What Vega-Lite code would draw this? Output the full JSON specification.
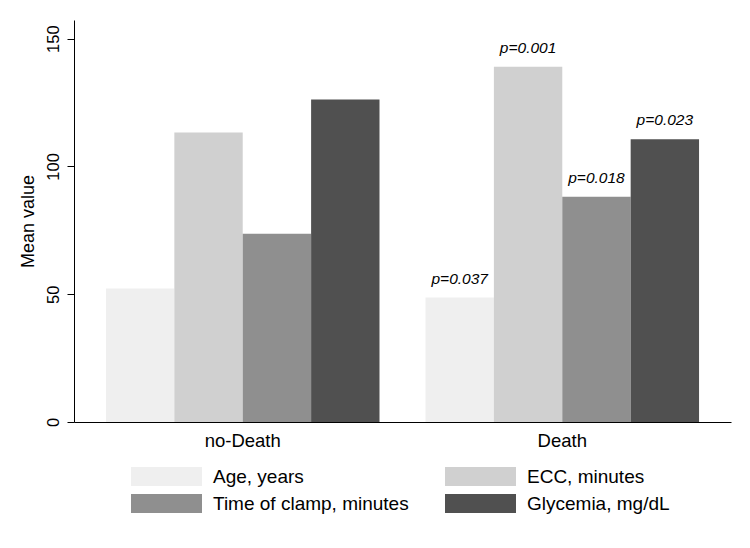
{
  "$schema": "https://vega.github.io/schema/vega-lite/v6.json",
  "width": 657,
  "height": 402,
  "autosize": {"type": "none"},
  "padding": {"left": 74, "top": 20, "right": 19, "bottom": 126},
  "background": "#ffffff",
  "config": {
    "font": "Liberation Sans",
    "view": {"stroke": null},
    "axis": {"labelColor": "#000000", "titleColor": "#000000", "domainColor": "#000000", "tickColor": "#000000", "grid": false}
  },
  "data": {
    "values": [
      {"group": "no-Death", "measure": "Age, years", "value": 52.2, "p": ""},
      {"group": "no-Death", "measure": "ECC, minutes", "value": 113.3, "p": ""},
      {"group": "no-Death", "measure": "Time of clamp, minutes", "value": 73.7, "p": ""},
      {"group": "no-Death", "measure": "Glycemia, mg/dL", "value": 126.2, "p": ""},
      {"group": "Death", "measure": "Age, years", "value": 48.7, "p": "p=0.037"},
      {"group": "Death", "measure": "ECC, minutes", "value": 139.0, "p": "p=0.001"},
      {"group": "Death", "measure": "Time of clamp, minutes", "value": 88.1, "p": "p=0.018"},
      {"group": "Death", "measure": "Glycemia, mg/dL", "value": 110.6, "p": "p=0.023"}
    ]
  },
  "encoding": {
    "x": {
      "field": "group", "type": "nominal", "sort": ["no-Death", "Death"],
      "scale": {"paddingInner": 0.144, "paddingOuter": 0.1},
      "axis": {"title": null, "labelAngle": 0, "ticks": false, "labelFontSize": 18.5, "labelPadding": 9, "domainWidth": 1}
    },
    "xOffset": {
      "field": "measure", "type": "nominal",
      "sort": ["Age, years", "ECC, minutes", "Time of clamp, minutes", "Glycemia, mg/dL"],
      "scale": {"paddingInner": 0, "paddingOuter": 0}
    },
    "y": {
      "field": "value", "type": "quantitative",
      "scale": {"domain": [0, 157.3], "nice": false},
      "axis": {"title": "Mean value", "values": [0, 50, 100, 150], "labelAngle": -90, "labelFontSize": 16.5, "tickSize": 7, "labelPadding": 6, "titleFontSize": 18, "titleFontWeight": "normal", "titlePadding": 8, "domainWidth": 1}
    }
  },
  "layer": [
    {
      "mark": {"type": "bar", "strokeWidth": 0},
      "encoding": {
        "color": {
          "field": "measure", "type": "nominal",
          "scale": {"domain": ["Age, years", "ECC, minutes", "Time of clamp, minutes", "Glycemia, mg/dL"], "range": ["#efefef", "#d0d0d0", "#8f8f8f", "#505050"]},
          "legend": {
            "title": null, "orient": "none", "legendX": 82.5, "legendY": 446.5,
            "direction": "horizontal", "columns": 2,
            "symbolType": "M-3.55,-0.95L3.55,-0.95L3.55,0.95L-3.55,0.95Z",
            "symbolSize": 400, "symbolStrokeWidth": 0, "symbolOpacity": 1,
            "labelFontSize": 19, "labelColor": "#000000", "labelOffset": 36.5, "labelLimit": 400,
            "columnPadding": 35, "rowPadding": 7
          }
        }
      }
    },
    {
      "mark": {"type": "text", "fontStyle": "italic", "fontSize": 15.5, "baseline": "alphabetic", "dy": -14, "color": "#000000"},
      "encoding": {"text": {"field": "p"}}
    }
  ]
}
